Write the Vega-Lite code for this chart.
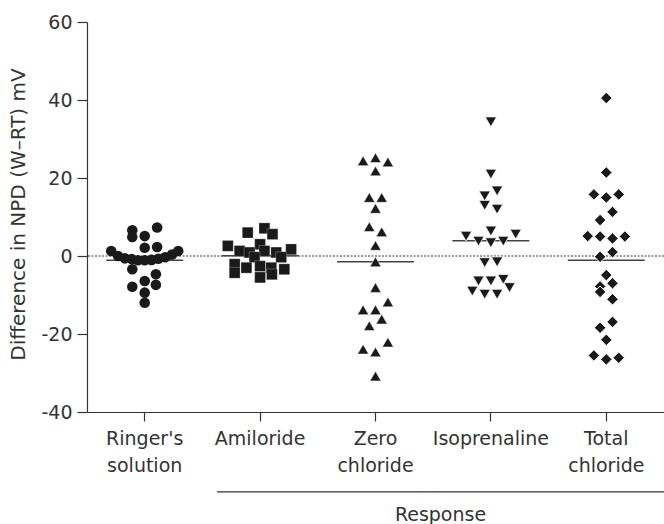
{
  "$schema": "https://vega.github.io/schema/vega-lite/v6.json",
  "autosize": "none",
  "width": 577,
  "height": 390,
  "padding": {"left": 87, "top": 22, "right": 0, "bottom": 112},
  "background": "white",
  "config": {
    "font": "DejaVu Sans",
    "view": {"stroke": null},
    "axis": {"grid": false, "domainColor": "#333", "tickColor": "#333", "labelColor": "#333", "titleColor": "#333", "labelFont": "DejaVu Sans", "titleFont": "DejaVu Sans", "titleFontWeight": "normal", "labelFontSize": 19, "titleFontSize": 19, "domainWidth": 1.2, "tickWidth": 1.2}
  },
  "datasets": {
    "pts": [
      {"group": "Ringer's solution", "value": 1.3, "slot": -5.4},
      {"group": "Ringer's solution", "value": 6.6, "slot": -2},
      {"group": "Ringer's solution", "value": 4.9, "slot": -2},
      {"group": "Ringer's solution", "value": 5.1, "slot": 0},
      {"group": "Ringer's solution", "value": 7.3, "slot": 2},
      {"group": "Ringer's solution", "value": 2.1, "slot": 0},
      {"group": "Ringer's solution", "value": 2.3, "slot": 2},
      {"group": "Ringer's solution", "value": 1.3, "slot": 5.4},
      {"group": "Ringer's solution", "value": 0.0, "slot": -4.3},
      {"group": "Ringer's solution", "value": -0.6, "slot": -3.2},
      {"group": "Ringer's solution", "value": -0.8, "slot": -2.1},
      {"group": "Ringer's solution", "value": -1.1, "slot": -1.1},
      {"group": "Ringer's solution", "value": -1.1, "slot": 0},
      {"group": "Ringer's solution", "value": -1.0, "slot": 1.1},
      {"group": "Ringer's solution", "value": -0.7, "slot": 2.2},
      {"group": "Ringer's solution", "value": -0.3, "slot": 3.3},
      {"group": "Ringer's solution", "value": 0.4, "slot": 4.4},
      {"group": "Ringer's solution", "value": -3.4, "slot": -2},
      {"group": "Ringer's solution", "value": -4.7, "slot": 1.8},
      {"group": "Ringer's solution", "value": -6.4, "slot": 0},
      {"group": "Ringer's solution", "value": -7.4, "slot": 1.8},
      {"group": "Ringer's solution", "value": -7.9, "slot": -2},
      {"group": "Ringer's solution", "value": -9.4, "slot": 0},
      {"group": "Ringer's solution", "value": -12.0, "slot": 0},
      {"group": "Amiloride", "value": 6.0, "slot": -2},
      {"group": "Amiloride", "value": 7.1, "slot": 0.7},
      {"group": "Amiloride", "value": 5.6, "slot": 2},
      {"group": "Amiloride", "value": 3.0, "slot": 0},
      {"group": "Amiloride", "value": 2.6, "slot": -5.2},
      {"group": "Amiloride", "value": 1.3, "slot": -3.3},
      {"group": "Amiloride", "value": 0.9, "slot": -1.7},
      {"group": "Amiloride", "value": 1.3, "slot": 0.7},
      {"group": "Amiloride", "value": 0.9, "slot": 2.6},
      {"group": "Amiloride", "value": 1.7, "slot": 5},
      {"group": "Amiloride", "value": -0.3, "slot": -0.9},
      {"group": "Amiloride", "value": -0.3, "slot": 3.4},
      {"group": "Amiloride", "value": -2.1, "slot": -4.1},
      {"group": "Amiloride", "value": -3.0, "slot": -2.2},
      {"group": "Amiloride", "value": -2.6, "slot": 0},
      {"group": "Amiloride", "value": -3.0, "slot": 1.8},
      {"group": "Amiloride", "value": -3.4, "slot": 3.9},
      {"group": "Amiloride", "value": -4.3, "slot": -4.1},
      {"group": "Amiloride", "value": -5.5, "slot": 0},
      {"group": "Amiloride", "value": -4.7, "slot": 1.9},
      {"group": "Zero chloride", "value": 24.4, "slot": -2},
      {"group": "Zero chloride", "value": 25.2, "slot": 0},
      {"group": "Zero chloride", "value": 24.1, "slot": 2},
      {"group": "Zero chloride", "value": 21.8, "slot": 0},
      {"group": "Zero chloride", "value": 15.0, "slot": -1},
      {"group": "Zero chloride", "value": 15.0, "slot": 1},
      {"group": "Zero chloride", "value": 12.2, "slot": 0},
      {"group": "Zero chloride", "value": 7.5, "slot": -1},
      {"group": "Zero chloride", "value": 6.2, "slot": 1},
      {"group": "Zero chloride", "value": 2.7, "slot": 0},
      {"group": "Zero chloride", "value": -1.5, "slot": 0},
      {"group": "Zero chloride", "value": -8.1, "slot": 0},
      {"group": "Zero chloride", "value": -11.8, "slot": 2},
      {"group": "Zero chloride", "value": -13.8, "slot": -2},
      {"group": "Zero chloride", "value": -13.8, "slot": 0},
      {"group": "Zero chloride", "value": -16.2, "slot": 1},
      {"group": "Zero chloride", "value": -17.9, "slot": -1},
      {"group": "Zero chloride", "value": -22.1, "slot": 2},
      {"group": "Zero chloride", "value": -23.9, "slot": -2},
      {"group": "Zero chloride", "value": -24.6, "slot": 0},
      {"group": "Zero chloride", "value": -30.8, "slot": 0},
      {"group": "Isoprenaline", "value": 34.4, "slot": 0},
      {"group": "Isoprenaline", "value": 21.0, "slot": 0},
      {"group": "Isoprenaline", "value": 16.7, "slot": 1},
      {"group": "Isoprenaline", "value": 15.4, "slot": -1},
      {"group": "Isoprenaline", "value": 13.0, "slot": -1},
      {"group": "Isoprenaline", "value": 12.0, "slot": 1},
      {"group": "Isoprenaline", "value": 6.4, "slot": 0},
      {"group": "Isoprenaline", "value": 5.1, "slot": -4},
      {"group": "Isoprenaline", "value": 5.6, "slot": 4},
      {"group": "Isoprenaline", "value": 3.8, "slot": -2},
      {"group": "Isoprenaline", "value": 3.4, "slot": 0},
      {"group": "Isoprenaline", "value": 3.8, "slot": 2},
      {"group": "Isoprenaline", "value": -1.7, "slot": -1},
      {"group": "Isoprenaline", "value": -1.5, "slot": 1},
      {"group": "Isoprenaline", "value": -6.4, "slot": -2},
      {"group": "Isoprenaline", "value": -6.4, "slot": 0},
      {"group": "Isoprenaline", "value": -6.0, "slot": 2},
      {"group": "Isoprenaline", "value": -8.1, "slot": 3},
      {"group": "Isoprenaline", "value": -9.0, "slot": -3},
      {"group": "Isoprenaline", "value": -9.8, "slot": -1},
      {"group": "Isoprenaline", "value": -9.8, "slot": 1},
      {"group": "Total chloride", "value": 40.5, "slot": 0},
      {"group": "Total chloride", "value": 21.4, "slot": 0},
      {"group": "Total chloride", "value": 15.8, "slot": -2},
      {"group": "Total chloride", "value": 15.0, "slot": 0},
      {"group": "Total chloride", "value": 15.8, "slot": 2},
      {"group": "Total chloride", "value": 11.3, "slot": 1},
      {"group": "Total chloride", "value": 9.2, "slot": -1},
      {"group": "Total chloride", "value": 5.1, "slot": -3},
      {"group": "Total chloride", "value": 5.0, "slot": -1},
      {"group": "Total chloride", "value": 4.5, "slot": 1},
      {"group": "Total chloride", "value": 5.0, "slot": 3},
      {"group": "Total chloride", "value": 1.0, "slot": 1},
      {"group": "Total chloride", "value": -0.2, "slot": -1},
      {"group": "Total chloride", "value": -4.9, "slot": 0},
      {"group": "Total chloride", "value": -7.0, "slot": 1},
      {"group": "Total chloride", "value": -7.8, "slot": -1},
      {"group": "Total chloride", "value": -9.2, "slot": -1},
      {"group": "Total chloride", "value": -11.1, "slot": 1},
      {"group": "Total chloride", "value": -16.9, "slot": 1},
      {"group": "Total chloride", "value": -18.4, "slot": -1},
      {"group": "Total chloride", "value": -21.5, "slot": 0},
      {"group": "Total chloride", "value": -25.5, "slot": -2},
      {"group": "Total chloride", "value": -26.5, "slot": 0},
      {"group": "Total chloride", "value": -26.1, "slot": 2}
    ]
  },
  "layer": [
    {
      "data": {"values": [{"zero": 0}]},
      "mark": {"type": "rule", "color": "#333", "strokeWidth": 1, "strokeDash": [2, 1.5]},
      "encoding": {"y": {"field": "zero", "type": "quantitative"}}
    },
    {
      "data": {"name": "pts"},
      "mark": {"type": "tick", "color": "#444", "thickness": 1.5, "size": 77},
      "encoding": {
        "x": {"field": "group", "type": "nominal"},
        "y": {"field": "value", "type": "quantitative", "aggregate": "mean"}
      }
    },
    {
      "data": {"name": "pts"},
      "mark": {"type": "point", "filled": true, "opacity": 1, "color": "#1a1a1a", "stroke": "white"},
      "encoding": {
        "x": {"field": "group", "type": "nominal",
          "scale": {"domain": ["Ringer's solution", "Amiloride", "Zero chloride", "Isoprenaline", "Total chloride"], "paddingInner": 0, "paddingOuter": 0},
          "axis": {"title": "Response", "labelAngle": 0, "labelAlign": "center", "labelExpr": "split(datum.label, ' ')", "labelLineHeight": 27, "labelPadding": 8, "tickSize": 9, "labelBaseline": "top", "titleX": 353, "titleY": 108, "titleBaseline": "alphabetic", "titleAnchor": "middle", "titleAlign": "center"}},
        "xOffset": {"field": "slot", "type": "quantitative", "scale": {"domain": [-9.3, 9.3], "range": [0, 115.4]}},
        "y": {"field": "value", "type": "quantitative",
          "scale": {"domain": [-40, 60], "nice": false},
          "axis": {"title": "Difference in NPD (W\u2013RT) mV", "values": [-40, -20, 0, 20, 40, 60], "labelExpr": "'' + datum.value", "tickSize": 10, "labelPadding": 5, "titleX": -69, "titleY": 192, "titleAngle": -90, "titleBaseline": "middle", "titleAlign": "center", "titleFontSize": 20}},
        "shape": {"field": "group", "type": "nominal", "legend": null,
          "scale": {"domain": ["Ringer's solution", "Amiloride", "Zero chloride", "Isoprenaline", "Total chloride"], "range": ["circle", "square", "triangle-up", "triangle-down", "diamond"]}},
        "size": {"field": "group", "type": "ordinal", "legend": null,
          "scale": {"domain": ["Ringer's solution", "Amiloride", "Zero chloride", "Isoprenaline", "Total chloride"], "range": [112, 135, 144, 144, 155]}},
        "strokeWidth": {"field": "group", "type": "ordinal", "legend": null,
          "scale": {"domain": ["Ringer's solution", "Amiloride", "Zero chloride", "Isoprenaline", "Total chloride"], "range": [0, 1, 0, 0, 0]}}
      }
    },
    {
      "data": {"values": [{"from": "Amiloride", "to": "Total chloride", "level": -60.5}]},
      "mark": {"type": "rule", "color": "#333", "strokeWidth": 1.2},
      "encoding": {
        "x": {"field": "from", "type": "nominal", "bandPosition": 0.127},
        "x2": {"field": "to", "bandPosition": 1},
        "y": {"field": "level", "type": "quantitative"}
      }
    }
  ]
}
